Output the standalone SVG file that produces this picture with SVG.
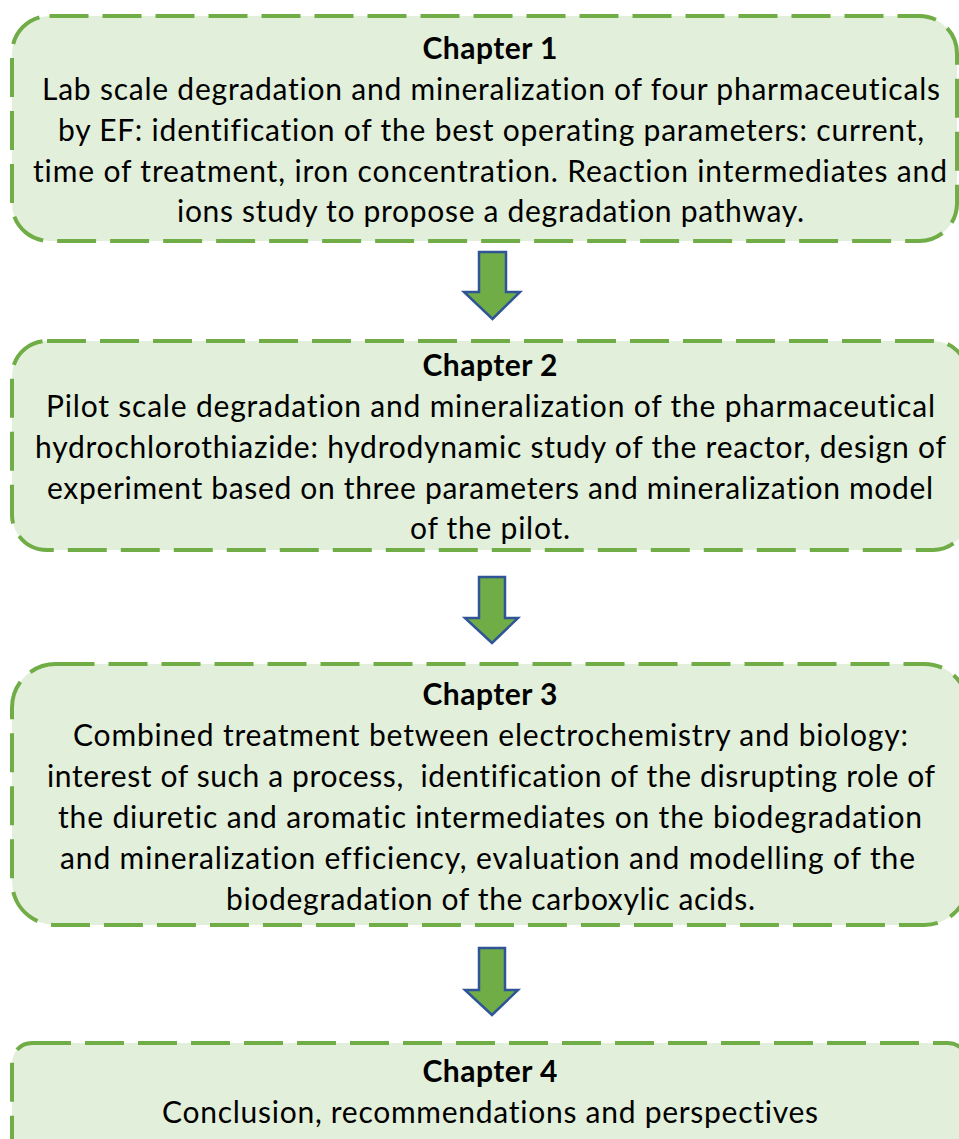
<svg xmlns="http://www.w3.org/2000/svg" width="959" height="1139" viewBox="0 0 959 1139">
<style>
.box{fill:#E2EFDA;stroke:#70AD47;stroke-width:4;stroke-dasharray:39 14}
.arr{fill:#70AD47;stroke:#2F5597;stroke-width:2.5;stroke-linejoin:miter}
text{font-family:Lato,"Liberation Sans",sans-serif;font-size:30px;fill:#000;text-anchor:middle;font-variant-ligatures:no-common-ligatures}
.h{font-weight:bold}
</style>
<rect width="959" height="1139" fill="#fff"/>
<g id="chapter1">
<rect class="box" x="12" y="16" width="945" height="225" rx="37.5"/>
<text class="h" x="490" y="59" textLength="135">Chapter 1</text>
<text x="491" y="100" textLength="898">Lab scale degradation and mineralization of four pharmaceuticals</text>
<text x="491" y="141" textLength="866">by EF: identification of the best operating parameters: current,</text>
<text x="490" y="182" textLength="914">time of treatment, iron concentration. Reaction intermediates and</text>
<text x="490.5" y="222" textLength="627">ions study to propose a degradation pathway.</text>
</g>
<g id="chapter2">
<rect class="box" x="12" y="341" width="956" height="209" rx="35"/>
<text class="h" x="490" y="376" textLength="135">Chapter 2</text>
<text x="490.5" y="417" textLength="889">Pilot scale degradation and mineralization of the pharmaceutical</text>
<text x="490.5" y="458" textLength="911">hydrochlorothiazide: hydrodynamic study of the reactor, design of</text>
<text x="490" y="499" textLength="886">experiment based on three parameters and mineralization model</text>
<text x="490" y="539" textLength="160">of the pilot.</text>
</g>
<g id="chapter3">
<rect class="box" x="12" y="664" width="956" height="261" rx="43.5"/>
<text class="h" x="490" y="705" textLength="135">Chapter 3</text>
<text x="490.5" y="746" textLength="835">Combined treatment between electrochemistry and biology:</text>
<text x="491" y="787" textLength="888" xml:space="preserve">interest of such a process,  identification of the disrupting role of</text>
<text x="490" y="828" textLength="864">the diuretic and aromatic intermediates on the biodegradation</text>
<text x="487.5" y="869" textLength="855">and mineralization efficiency, evaluation and modelling of the</text>
<text x="490.5" y="910" textLength="529">biodegradation of the carboxylic acids.</text>
</g>
<g id="chapter4">
<rect class="box" x="12" y="1043" width="956" height="130" rx="20"/>
<text class="h" x="490" y="1082" textLength="135">Chapter 4</text>
<text x="490" y="1123" textLength="656">Conclusion, recommendations and perspectives</text>
</g>
<g id="connectors">
<polygon class="arr" points="479,252 506,252 506,292 520,292 492.5,319 464,292 479,292"/>
<polygon class="arr" points="479,577 505,577 505,618 518,618 492,643 465,618 479,618"/>
<polygon class="arr" points="479,948 505,948 505,990 518,990 492,1015 465,990 479,990"/>
</g>
</svg>
